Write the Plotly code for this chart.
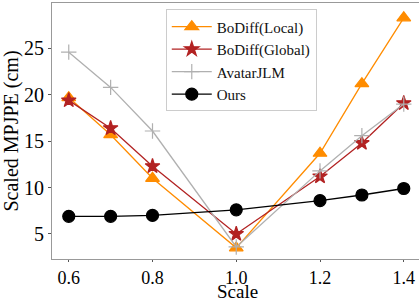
import plotly.graph_objects as go

scales = [0.6, 0.7, 0.8, 1.0, 1.2, 1.3, 1.4]
bodiff_local = [19.7, 15.7, 11.0, 3.5, 13.7, 21.2, 28.3]
bodiff_global = [19.4, 16.4, 12.3, 5.0, 11.2, 14.8, 19.1]
avatarjlm = [24.6, 20.8, 16.1, 3.6, 11.8, 15.6, 19.0]
ours = [6.9, 6.9, 7.0, 7.6, 8.6, 9.2, 9.9]

series = [
    ("BoDiff(Local)", bodiff_local, "#FF8C00", "triangle-up", 12),
    ("BoDiff(Global)", bodiff_global, "#B22222", "star", 11),
    ("AvatarJLM", avatarjlm, "#B0B0B0", "cross-thin", 11),
    ("Ours", ours, "#000000", "circle", 12),
]

fig = go.Figure()
for name, vals, color, sym, size in series:
    fig.add_trace(go.Scatter(
        x=scales, y=vals, name=name, mode="lines+markers",
        line=dict(color=color, width=1.3),
        marker=dict(symbol=sym, size=size, color=color,
                    line=dict(color=color, width=1.2)),
    ))

font = "Liberation Serif"
fig.update_layout(
    width=419, height=303,
    margin=dict(l=52, r=0, t=3, b=44),
    plot_bgcolor="white", paper_bgcolor="white",
    font=dict(family=font, size=20, color="black"),
    legend=dict(x=0.31, y=0.975, xanchor="left", yanchor="top",
                bgcolor="white", bordercolor="#cccccc", borderwidth=1,
                font=dict(size=15, family=font, color="#111111"),
                tracegroupgap=0, itemwidth=40),
    xaxis=dict(range=[0.56, 1.4364], tickvals=[0.6, 0.8, 1.0, 1.2, 1.4],
               ticktext=["0.6", "0.8", "1.0", "1.2", "1.4"],
               showgrid=False, zeroline=False, showline=True, mirror=True,
               linecolor="#999999", linewidth=1.2, ticks="outside",
               ticklen=2, tickcolor="#555555",
               tickfont=dict(size=18, family=font)),
    yaxis=dict(range=[2.3, 29.9], tickvals=[5, 10, 15, 20, 25],
               showgrid=False, zeroline=False, showline=True, mirror=False,
               linecolor="#999999", linewidth=1.2, ticks="outside",
               ticklen=3, tickcolor="#555555",
               title=dict(text="Scaled MPJPE (cm)", font=dict(size=20, family=font), standoff=4),
               tickfont=dict(size=20, family=font)),
    annotations=[dict(text="Scale", xref="paper", yref="paper",
                      x=(237 - 52) / 367, y=-44 / 256, xanchor="center",
                      yanchor="bottom", showarrow=False,
                      font=dict(size=19, family=font), yshift=-1)],
)

fig.write_html("out.html", config={"displayModeBar": False},
               post_script="document.body.style.margin='0';")
